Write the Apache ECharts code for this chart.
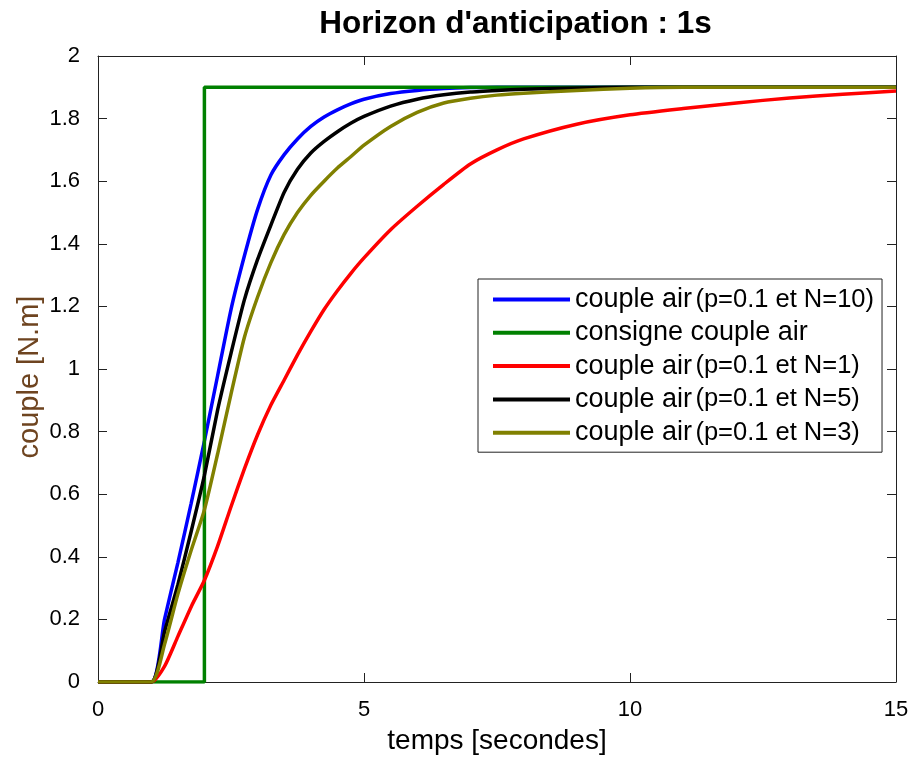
<!DOCTYPE html>
<html>
<head>
<meta charset="utf-8">
<script src="https://cdn.jsdelivr.net/npm/echarts@6/dist/echarts.min.js"></script>
<style>
html,body{margin:0;padding:0;background:#fff;}
#chart{width:915px;height:760px;}
</style>
</head>
<body>
<div id="chart"></div>
<script>
// ---- data ----
const titleText = "Horizon d'anticipation : 1s";
const xName = "temps [secondes]";
const yName = "couple [N.m]";
const xTicks = [0, 5, 10, 15];
const yTicks = [0, 0.2, 0.4, 0.6, 0.8, 1, 1.2, 1.4, 1.6, 1.8, 2];

const timeS   = [0, 1, 1.25, 1.5, 1.75, 2, 2.25, 2.5, 2.75, 3, 3.25, 3.5, 3.75, 4, 4.25, 4.5, 4.75, 5, 5.5, 6, 6.5, 7, 7.5, 8, 9, 10, 11, 12, 13, 14, 15];
const blueN10 = [0, 0, 0.20, 0.38, 0.57, 0.77, 0.98, 1.19, 1.36, 1.51, 1.62, 1.685, 1.735, 1.775, 1.805, 1.828, 1.847, 1.862, 1.88, 1.89, 1.896, 1.899, 1.9, 1.9, 1.9, 1.9, 1.9, 1.9, 1.9, 1.9, 1.9];
const redN1   = [0, 0, 0.05, 0.145, 0.24, 0.325, 0.435, 0.56, 0.68, 0.79, 0.885, 0.965, 1.045, 1.12, 1.19, 1.25, 1.305, 1.355, 1.445, 1.52, 1.59, 1.655, 1.70, 1.735, 1.782, 1.812, 1.832, 1.85, 1.866, 1.878, 1.888];
const blackN5 = [0, 0, 0.16, 0.31, 0.48, 0.66, 0.87, 1.05, 1.22, 1.35, 1.46, 1.565, 1.638, 1.69, 1.727, 1.758, 1.785, 1.807, 1.84, 1.862, 1.876, 1.885, 1.89, 1.894, 1.898, 1.9, 1.9, 1.9, 1.9, 1.9, 1.9];
const oliveN3 = [0, 0, 0.12, 0.28, 0.42, 0.55, 0.73, 0.92, 1.10, 1.23, 1.34, 1.43, 1.50, 1.555, 1.60, 1.642, 1.678, 1.715, 1.775, 1.82, 1.85, 1.865, 1.875, 1.881, 1.89, 1.897, 1.9, 1.9, 1.9, 1.9, 1.9];
const greenT  = [0, 2, 2, 15];
const greenV  = [0, 0, 1.9, 1.9];

const names = [
  "couple air (p=0.1 et N=10)",
  "consigne couple air",
  "couple air (p=0.1 et N=1)",
  "couple air (p=0.1 et N=5)",
  "couple air (p=0.1 et N=3)"
];
const colors = ["#0000ff", "#008000", "#ff0000", "#000000", "#808000"];

function pairs(t, v) { return t.map((x, i) => [x, v[i]]); }
const seriesData = [
  pairs(timeS, blueN10),
  pairs(greenT, greenV),
  pairs(timeS, redN1),
  pairs(timeS, blackN5),
  pairs(timeS, oliveN3)
];
const smoothFlags = [true, false, true, true, true];

const FONT = "'Liberation Sans', Arial, sans-serif";
const chart = echarts.init(document.getElementById('chart'), null, {renderer: 'canvas'});

const baseAxis = {
  min: 0,
  axisLine: {show: true, onZero: false, lineStyle: {color: '#222', width: 1}},
  axisTick: {show: true, inside: true, length: 9, lineStyle: {color: '#222', width: 1}},
  splitLine: {show: false}
};

chart.setOption({
  animation: false,
  backgroundColor: '#fff',
  title: {
    text: titleText,
    left: 510.5,
    textAlign: 'center',
    top: 3,
    textStyle: {fontFamily: FONT, fontSize: 31.5, fontWeight: 'bold', color: '#000'}
  },
  grid: {left: 98, right: 19, top: 56, bottom: 76, containLabel: false},
  legend: {
    orient: 'vertical',
    left: 478,
    top: 279,
    backgroundColor: '#fff',
    borderColor: '#222',
    borderWidth: 1,
    padding: [7, 8, 6, 15],
    itemGap: 6.3,
    itemWidth: 77,
    itemHeight: 4,
    icon: 'rect',
    data: names,
    formatter: function (n) {
      const m = n.match(/^(couple air)\s*(\(.*\))$/);
      if (m) return '{a|' + m[1] + '} {b|' + m[2] + '}';
      return '{a|' + n + '}';
    },
    textStyle: {
      fontFamily: FONT,
      color: '#000',
      rich: {
        a: {fontFamily: FONT, fontSize: 27, lineHeight: 28, color: '#000'},
        b: {fontFamily: FONT, fontSize: 25.5, lineHeight: 28, color: '#000'}
      }
    }
  },
  xAxis: [
    Object.assign({}, baseAxis, {
      type: 'value', position: 'bottom', max: xTicks[xTicks.length - 1], interval: xTicks[1] - xTicks[0],
      name: xName, nameLocation: 'middle', nameGap: 45, nameMoveOverlap: false,
      nameTextStyle: {fontFamily: FONT, fontSize: 28, color: '#000'},
      axisLabel: {fontFamily: FONT, fontSize: 22, color: '#000', margin: 17}
    }),
    Object.assign({}, baseAxis, {
      type: 'value', position: 'top', max: xTicks[xTicks.length - 1], interval: xTicks[1] - xTicks[0],
      axisLabel: {show: false}
    })
  ],
  yAxis: [
    Object.assign({}, baseAxis, {
      type: 'value', position: 'left', max: yTicks[yTicks.length - 1], interval: yTicks[1] - yTicks[0],
      name: yName, nameLocation: 'middle', nameGap: 54, nameRotate: 90, nameMoveOverlap: false,
      nameTextStyle: {fontFamily: FONT, fontSize: 29, color: '#6e4420', padding: [0, 16, 0, 0]},
      axisLabel: {fontFamily: FONT, fontSize: 22, color: '#000', margin: 18}
    }),
    Object.assign({}, baseAxis, {
      type: 'value', position: 'right', max: yTicks[yTicks.length - 1], interval: yTicks[1] - yTicks[0],
      axisLabel: {show: false}
    })
  ],
  series: names.map((n, i) => ({
    name: n,
    type: 'line',
    xAxisIndex: 0,
    yAxisIndex: 0,
    data: seriesData[i],
    showSymbol: false,
    symbol: 'none',
    smooth: smoothFlags[i] ? 0.2 : false,
    color: colors[i],
    lineStyle: {color: colors[i], width: 3.5},
    z: 2 + i
  }))
});
</script>
</body>
</html>
